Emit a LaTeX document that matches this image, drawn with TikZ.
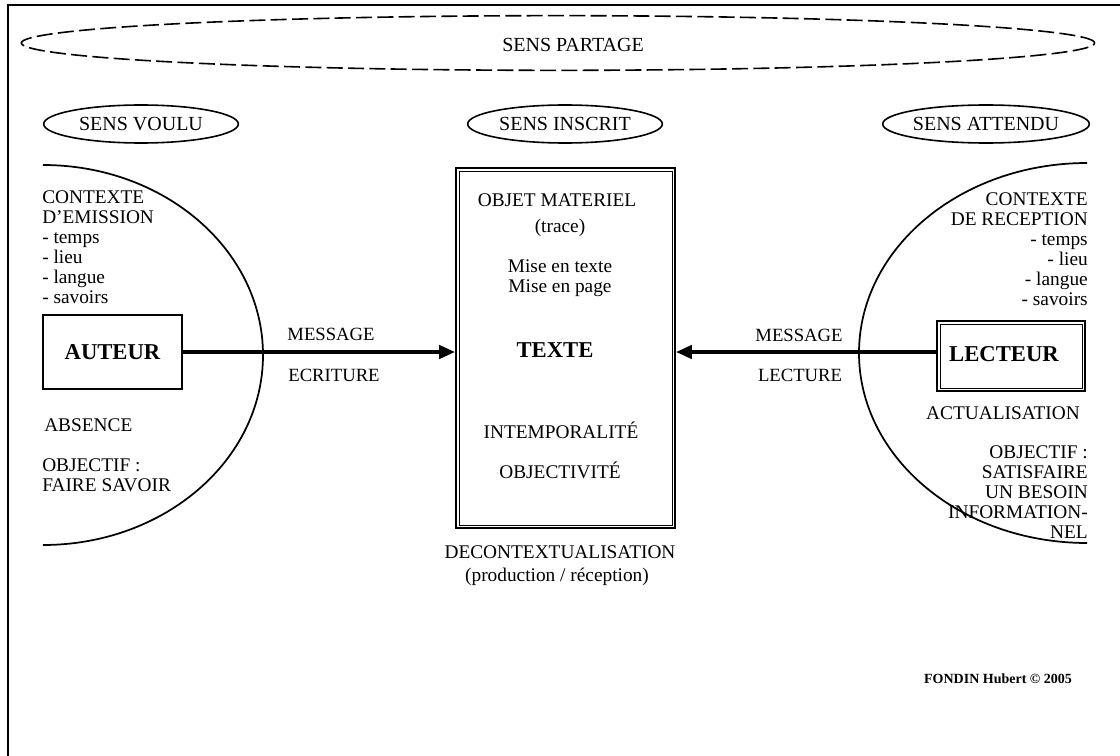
\documentclass[tikz,border=0pt]{standalone}
\usepackage{fontspec}
\setmainfont{Liberation Serif}
\usetikzlibrary{shapes.geometric,arrows.meta}
\begin{document}
\begin{tikzpicture}[x=0.75pt,y=-0.75pt,
  txt/.style={inner sep=0pt, font=\fontsize{14.5}{15}\selectfont},
  lbl/.style={draw, line width=1.2pt, ellipse, minimum width=146pt, minimum height=28.5pt, inner sep=0pt, font=\fontsize{15}{18}\selectfont},
  actor/.style={draw, line width=1.5pt, inner sep=0pt, font=\bfseries\fontsize{17}{20}\selectfont},
  halfline/.style={line width=1.3pt},
  flow/.style={line width=2.7pt, -{Triangle[length=12pt,width=10pt]}},
  msg/.style={inner sep=0pt, font=\fontsize{14}{15}\selectfont},
]
\useasboundingbox (0,0) rectangle (1120,756);
\fill[white] (0,0) rectangle (1120,756);
% frame
\draw[line width=1pt] (8,756) -- (8,5) -- (1120,5);

% shared sense
\node[draw, ellipse, dash pattern=on 12pt off 4pt, line width=1.2pt, minimum width=805pt, minimum height=41pt] (partage) at (558,43) {};
\node[inner sep=0pt, font=\fontsize{15}{18}\selectfont] (partagetxt) at (573,45) {SENS PARTAGE};

% three senses
\node[lbl] (voulu) at (141,124) {SENS VOULU};
\node[lbl] (inscrit) at (565,124) {SENS INSCRIT};
\node[lbl] (attendu) at (986,124) {SENS ATTENDU};

% half ellipses
\draw[halfline] (43,165) arc[start angle=-90, end angle=90, x radius=220, y radius=190];
\draw[halfline] (1087,163) arc[start angle=-90, end angle=-270, x radius=228, y radius=190];

% left column
\node[txt, align=left, anchor=west] (ctxL) at (42,247) {CONTEXTE\\D'EMISSION\\- temps\\- lieu\\- langue\\- savoirs};
\node[actor, minimum width=104pt, minimum height=55pt] (auteur) at (112.5,352) {AUTEUR};
\node[txt, anchor=west] (absence) at (44,425) {ABSENCE};
\node[txt, align=left, anchor=west] (objL) at (42,475) {OBJECTIF :\\FAIRE SAVOIR};

% right column
\node[txt, align=right, anchor=east] (ctxR) at (1088,249) {CONTEXTE\\DE RECEPTION\\- temps\\- lieu\\- langue\\- savoirs};
\node[actor, minimum width=111pt, minimum height=52.5pt] (lecteur) at (1011,356) {};
\node[inner sep=0pt, font=\bfseries\fontsize{17}{20}\selectfont] (lecteurtxt) at (1004,354) {LECTEUR};
\draw[line width=0.5pt] ([shift={(3pt,-3pt)}]lecteur.north west) rectangle ([shift={(-3pt,3pt)}]lecteur.south east);
\node[txt] (actualisation) at (1003,413) {ACTUALISATION};
\node[txt, align=right, anchor=east] (objR) at (1088,492) {OBJECTIF :\\SATISFAIRE\\UN BESOIN\\INFORMATION-\\NEL};

% central box
\node[draw, line width=1.7pt, minimum width=164pt, minimum height=270pt, inner sep=0pt] (tbox) at (565.5,348) {};
\draw[line width=0.5pt] ([shift={(3pt,-3pt)}]tbox.north west) rectangle ([shift={(-3pt,3pt)}]tbox.south east);
\node[txt] (objmat) at (557,200) {OBJET MATERIEL};
\node[txt] (trace) at (560,228) {(trace)};
\node[txt, align=center] (mise) at (560,278) {Mise en texte\\Mise en page};
\node[txt, font=\bfseries\fontsize{17}{20}\selectfont] (texte) at (555,350) {TEXTE};
\node[txt] (intemp) at (561,430) {INTEMPORALITÉ};
\node[txt] (objv) at (560,470) {OBJECTIVITÉ};
\node[txt] (decon) at (560,552) {DECONTEXTUALISATION};
\node[txt] (prod) at (557,577) {(production / réception)};

% arrows
\draw[flow] (auteur.east) -- (auteur.east -| tbox.west);
\draw[flow] (lecteur.west |- auteur.east) -- (tbox.east |- auteur.east);
\node[msg] (msgL) at (331,334) {MESSAGE};
\node[msg] (ecriture) at (334,375) {ECRITURE};
\node[msg] (msgR) at (799,335) {MESSAGE};
\node[msg] (lecture) at (800,375) {LECTURE};

% signature
\node[inner sep=0pt, font=\bfseries\fontsize{10.5}{12}\selectfont] (sig) at (998,679) {FONDIN Hubert © 2005};
\end{tikzpicture}
\end{document}
